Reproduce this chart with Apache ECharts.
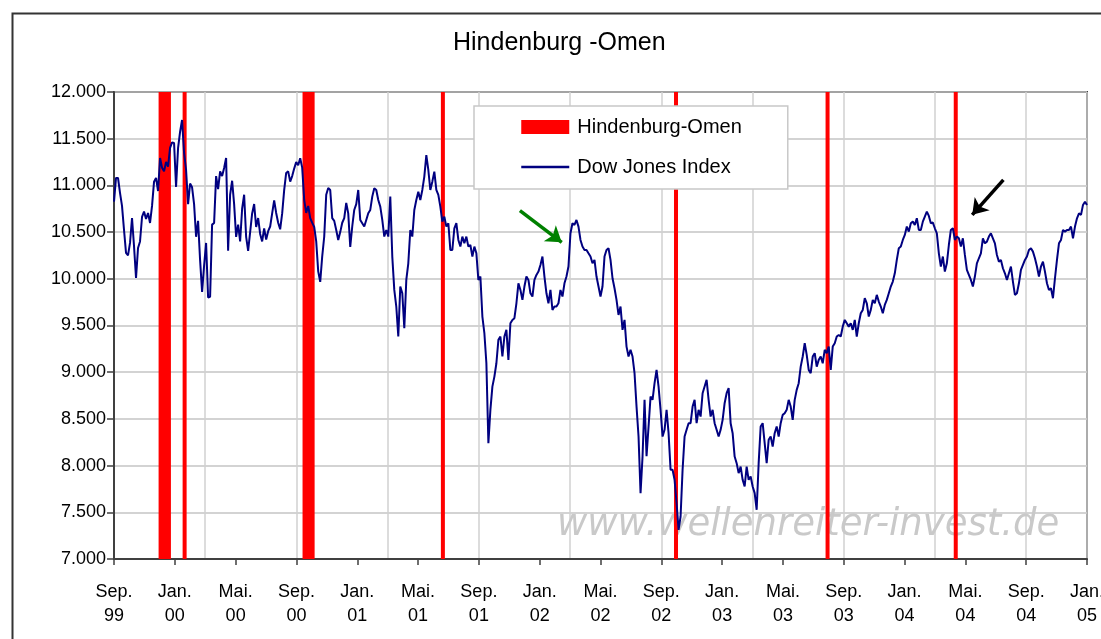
<!DOCTYPE html>
<html>
<head>
<meta charset="utf-8">
<title>Hindenburg -Omen</title>
<script src="https://cdn.jsdelivr.net/npm/echarts@6/dist/echarts.min.js"></script>
<style>
  html, body { margin: 0; padding: 0; background: #fff; }
  #chart { width: 1101px; height: 639px; }
</style>
</head>
<body>
<div id="chart"></div>
<script>
// x-Achse in Monaten seit Sep. 1999 (0 = Sep 99, 64 = Jan 05)
var xTickLabels = [
  'Sep.\n99', 'Jan.\n00', 'Mai.\n00', 'Sep.\n00', 'Jan.\n01', 'Mai.\n01',
  'Sep.\n01', 'Jan.\n02', 'Mai.\n02', 'Sep.\n02', 'Jan.\n03', 'Mai.\n03',
  'Sep.\n03', 'Jan.\n04', 'Mai.\n04', 'Sep.\n04', 'Jan.\n05'
]
var yMin = 7000
var yMax = 12000
var yStep = 500

// Dow Jones Index, gleichmaessig von Sep 99 bis Jan 05
var djValues = [
  // Sep 99 - Mai 01
  10826, 11080, 11080, 10920, 10780, 10523, 10277, 10250, 10384, 10650,
  10350, 10010, 10330, 10400, 10662, 10720, 10640, 10705, 10598, 10780,
  11040, 11080, 10940, 11294, 11190, 11150, 11251, 11200, 11401, 11460,
  11454, 10984, 11400, 11572, 11700, 11347, 11165, 10800, 11020, 10980,
  10800, 10450, 10620, 10200, 9860, 10140, 10384, 9800, 9807, 10580,
  10598, 11100, 10960, 11150, 11100, 11187, 11294, 10300, 10900, 11050,
  10800, 10448, 10580, 10400, 10750, 10900, 10448, 10300, 10500, 10700,
  10800, 10555, 10650, 10480, 10400, 10540, 10420, 10510, 10560, 10700,
  10840, 10705, 10600, 10530, 10700, 10950, 11133, 11150, 11040, 11100,
  11180, 11251, 11215, 11290, 11190, 10844, 10705, 10780, 10650, 10600,
  10555, 10400, 10080, 9967, 10240, 10450, 10900, 10973, 10951, 10650,
  10620, 10523, 10416, 10500, 10600, 10650, 10812, 10700, 10341, 10560,
  10737, 10800, 10951,
  // Mai 01 - Mai 02
  10630, 10595, 10560, 10630, 10701, 10737, 10880, 10970, 10951, 10844,
  10773, 10630, 10452, 10523, 10452, 10880, 10238, 9881, 9703, 9382,
  9917, 9845, 9471, 9988, 10166, 10523, 10452, 10737, 10844, 10933,
  10844, 10951, 11094, 11325, 11165, 10951, 11040, 11147, 10951, 10898,
  10773, 10612, 10666, 10559, 10595, 10309, 10309, 10541, 10595, 10416,
  10345, 10452, 10380, 10452, 10345, 10362, 10238, 10345, 10273, 9988,
  10024, 9596, 9417, 9096, 8240, 8597, 8846, 8953, 9096, 9346,
  9382, 9168, 9382, 9453, 9132, 9524, 9560, 9578, 9738, 9952,
  9881, 9774, 9917, 10024, 9988, 9845, 9810, 9988, 10041, 10077,
  10148, 10238, 10024, 9845, 9738, 9881, 9667, 9703, 9703, 9738,
  9881, 9810, 9952, 10024, 10131, 10487, 10595, 10577, 10630, 10559,
  10416, 10345, 10309, 10309, 10273, 10238, 10166, 10202, 10024, 9917,
  9810, 9917, 10238,
  // Mai 02 - Sep 03
  10309, 10327, 10202, 10006, 9899, 9774, 9613, 9703, 9453, 9560,
  9274, 9168, 9239, 9168, 8989, 8632, 8311, 7705, 8097, 8704,
  8100, 8418, 8739, 8704, 8882, 9025, 8846, 8597, 8311, 8383,
  8597, 8347, 7955, 7955, 7848, 7598, 7312, 7455, 7955, 8311,
  8383, 8454, 8454, 8632, 8704, 8454, 8597, 8525, 8775, 8846,
  8918, 8704, 8525, 8597, 8454, 8383, 8311, 8383, 8490, 8668,
  8775, 8829, 8454, 8347, 8097, 8026, 7919, 7990, 7848, 7776,
  7990, 7848, 7883, 7776, 7705, 7527, 8026, 8418, 8454, 8240,
  8026, 8276, 8311, 8204, 8347, 8418, 8311, 8454, 8543, 8561,
  8597, 8704, 8632, 8490, 8704, 8811, 8882, 9060, 9168, 9310,
  9185, 9025, 8989, 9168, 9203, 9060, 9132, 9168, 9096, 9239,
  9203, 9274, 9025, 9274, 9310, 9382, 9399, 9382, 9488, 9560,
  9524, 9488,
  // Sep 03 - Jan 05
  9524, 9453, 9560, 9382, 9524, 9631, 9667, 9792, 9738, 9596,
  9667, 9774, 9738, 9828, 9756, 9703, 9631, 9720, 9774, 9845,
  9917, 9970, 10059, 10202, 10327, 10345, 10416, 10470, 10559, 10505,
  10595, 10612, 10577, 10648, 10523, 10523, 10612, 10666, 10719, 10673,
  10595, 10602, 10541, 10487, 10273, 10131, 10238, 10077, 10166, 10362,
  10523, 10541, 10416, 10452, 10434, 10345, 10434, 10255, 10095, 10041,
  9988, 9917, 10024, 10166, 10220, 10273, 10434, 10380, 10398, 10452,
  10487, 10434, 10380, 10255, 10184, 10202, 10113, 10059, 9988, 10059,
  10131, 9970, 9828, 9845, 9952, 10095, 10148, 10202, 10238, 10309,
  10327, 10291, 10220, 10131, 10024, 10131, 10184, 10077, 9952, 9881,
  9899, 9792, 10006, 10202, 10380, 10416, 10523, 10505, 10523, 10523,
  10559, 10434, 10559, 10648, 10701, 10684, 10791, 10826, 10791
]

// Tage mit Hindenburg-Omen (Haeufungen ergeben die breiten Balken)
var omenDates = [
  '1999-12-03', '1999-12-07', '1999-12-11', '1999-12-15', '1999-12-20',
  '2000-01-21',
  '2000-09-17', '2000-09-21', '2000-09-25', '2000-09-29', '2000-10-03',
  '2001-06-20',
  '2002-09-30',
  '2003-07-30',
  '2004-04-12'
]

// Pfeile: [Monat, Indexstand] von Anfang bis Spitze
var greenArrow = [[26.7, 10730], [29.45, 10390]]
var blackArrow = [[58.5, 11060], [56.45, 10685]]

var fontFamily = '"Liberation Sans", Arial, sans-serif'

// Datum -> Monate seit 1.9.1999
function monthsSinceStart(s) {
  var p = s.split('-')
  var y = +p[0]
  var m = +p[1]
  var d = +p[2]
  var days = new Date(y, m, 0).getDate()
  return (y - 1999) * 12 + (m - 9) + (d - 1) / days
}

var lastMonth = (xTickLabels.length - 1) * 4
var djData = djValues.map(function(v, i) {
  return [i * lastMonth / (djValues.length - 1), v]
})
var omenData = omenDates.map(function(d) {
  return [monthsSinceStart(d), yMax]
})

var myChart = echarts.init(document.getElementById('chart'))
var option = {
  animation: false,
  backgroundColor: '#fff',
  textStyle: { fontFamily: fontFamily },
  title: {
    text: 'Hindenburg -Omen',
    left: 448,
    top: 26,
    textStyle: { fontSize: 25, fontWeight: 'normal', color: '#000', fontFamily: fontFamily }
  },
  legend: {
    orient: 'vertical',
    left: 474,
    top: 106,
    padding: [11, 46, 12, 46],
    itemWidth: 48,
    itemHeight: 14,
    itemGap: 20,
    backgroundColor: '#fff',
    borderColor: '#c8c8c8',
    borderWidth: 1.5,
    selectedMode: false,
    textStyle: { fontSize: 20, color: '#000', padding: [0, 0, 0, 3], fontFamily: fontFamily },
    data: [
      { name: 'Hindenburg-Omen', icon: 'rect' },
      // nur die Linie, ohne Punkt
      { name: 'Dow Jones Index', itemStyle: { opacity: 0 }, lineStyle: { width: 2.5 } }
    ]
  },
  grid: {
    left: 114,
    top: 92,
    right: 14,
    bottom: 80,
    outerBoundsMode: 'none',
    containLabel: false,
    show: true,
    borderColor: '#404040',
    borderWidth: 2,
    backgroundColor: '#fff'
  },
  xAxis: [
    {
      type: 'value',
      min: 0,
      max: lastMonth,
      interval: 4,
      axisLine: { lineStyle: { color: '#404040', width: 2 } },
      axisTick: { length: 6, lineStyle: { color: '#404040', width: 1.5 } },
      splitLine: { show: false },
      axisLabel: {
        margin: 21,
        fontSize: 18,
        lineHeight: 24,
        color: '#000',
        fontFamily: fontFamily,
        formatter: function(v) {
          return xTickLabels[Math.round(v / 4)]
        }
      }
    },
    {
      // senkrechte Gitterlinien alle 6 Monate
      type: 'value',
      min: 0,
      max: lastMonth,
      interval: 6,
      axisLine: { show: false },
      axisTick: { show: false },
      axisLabel: { show: false },
      splitLine: { lineStyle: { color: '#d0d0d0', width: 1.5 } }
    }
  ],
  yAxis: {
    type: 'value',
    min: yMin,
    max: yMax,
    interval: yStep,
    axisLine: { show: true, lineStyle: { color: '#404040', width: 2 } },
    axisTick: { show: true, length: 7, lineStyle: { color: '#404040', width: 1.5 } },
    splitLine: { lineStyle: { color: '#c4c4c4', width: 1.5 } },
    axisLabel: {
      margin: 8,
      fontSize: 18,
      color: '#000',
      fontFamily: fontFamily,
      formatter: function(v) {
        return (v / 1000).toFixed(3)
      }
    }
  },
  graphic: [
    {
      // Rahmen um das ganze Diagramm
      type: 'rect',
      left: 10,
      top: 11,
      z: 10,
      silent: true,
      shape: { width: 1200, height: 800 },
      style: { fill: null, stroke: '#333', lineWidth: 2 }
    },
    {
      type: 'text',
      left: 557,
      top: 507,
      z: 1,
      silent: true,
      style: {
        text: 'www.wellenreiter-invest.de',
        fontSize: 37,
        fontStyle: 'italic',
        fontFamily: '"DejaVu Sans", sans-serif',
        fill: '#c9c9c9'
      }
    }
  ],
  series: [
    {
      name: 'Hindenburg-Omen',
      type: 'bar',
      xAxisIndex: 0,
      barWidth: 4,
      clip: true,
      z: 2,
      itemStyle: { color: '#ff0000' },
      data: omenData
    },
    {
      name: 'Dow Jones Index',
      type: 'line',
      xAxisIndex: 0,
      symbol: 'none',
      z: 3,
      lineStyle: { color: '#000080', width: 2 },
      itemStyle: { color: '#000080' },
      data: djData,
      markLine: {
        silent: true,
        symbol: ['none', 'arrow'],
        symbolSize: 15,
        label: { show: false },
        emphasis: { disabled: true },
        data: [
          [
            { coord: greenArrow[0], lineStyle: { color: '#008000', width: 3.5, type: 'solid' } },
            { coord: greenArrow[1] }
          ],
          [
            { coord: blackArrow[0], lineStyle: { color: '#000000', width: 3.5, type: 'solid' } },
            { coord: blackArrow[1] }
          ]
        ]
      }
    }
  ]
}
myChart.setOption(option)
</script>
</body>
</html>
